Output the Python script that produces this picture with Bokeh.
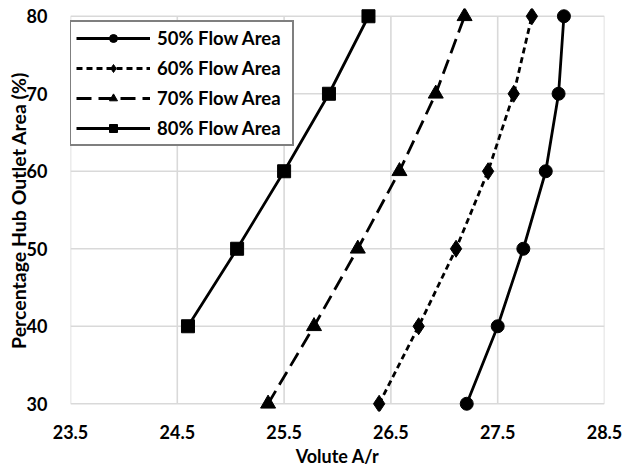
import math
from bokeh.plotting import figure
from bokeh.models import Range1d, FixedTicker, Legend, LegendItem, Label
from bokeh.embed import file_html
from bokeh.resources import INLINE

# Percentage hub outlet area (y) against volute A/r (x) for each flow area
hub_outlet_pct = [30, 40, 50, 60, 70, 80]
hub_outlet_pct_80 = [40, 50, 60, 70, 80]

ar_50 = [27.21, 27.50, 27.74, 27.95, 28.07, 28.12]
ar_60 = [26.39, 26.76, 27.11, 27.41, 27.65, 27.82]
ar_70 = [25.35, 25.78, 26.19, 26.58, 26.92, 27.19]
ar_80 = [24.60, 25.06, 25.50, 25.92, 26.29]

x_ticks = [23.5, 24.5, 25.5, 26.5, 27.5, 28.5]
y_ticks = [30, 40, 50, 60, 70, 80]

x_title = "Volute A/r"
y_title = "Percentage Hub Outlet Area (%)"

FONT = "Lato"
GRID = "#d9d9d9"

p = figure(width=635, height=464, output_backend="svg", toolbar_location=None,
           x_range=Range1d(23.5, 28.5), y_range=Range1d(29, 81),
           min_border_left=69, min_border_right=31, min_border_top=8,
           min_border_bottom=53)
p.outline_line_color = None
p.grid.visible = False

# gridlines limited to the tick extents
p.segment(x0=x_ticks, x1=x_ticks, y0=[min(y_ticks)] * len(x_ticks),
          y1=[max(y_ticks)] * len(x_ticks), line_color=GRID, line_width=1.6)
p.segment(x0=[min(x_ticks)] * len(y_ticks), x1=[max(x_ticks)] * len(y_ticks),
          y0=y_ticks, y1=y_ticks, line_color=GRID, line_width=1.6)

for ax in (p.xaxis[0], p.yaxis[0]):
    ax.axis_line_color = None
    ax.major_tick_line_color = None
    ax.minor_tick_line_color = None
    ax.major_label_text_font = FONT
    ax.major_label_text_font_style = "bold"
    ax.major_label_text_font_size = "18px"
    ax.major_label_text_color = "#000000"

p.xaxis.ticker = FixedTicker(ticks=x_ticks)
p.yaxis.ticker = FixedTicker(ticks=y_ticks)
p.xaxis.major_label_standoff = 7
p.yaxis.major_label_standoff = 17

# axis titles placed in the side panels (screen pixels)
p.add_layout(Label(x=267, y=8, x_units="screen", y_units="screen",
                   text=x_title, text_align="center", text_baseline="alphabetic",
                   text_font=FONT, text_font_style="bold", text_font_size="18px",
                   text_color="black"), "below")
p.add_layout(Label(x=18, y=201, x_units="screen", y_units="screen",
                   text=y_title, angle=math.pi / 2, text_align="center",
                   text_baseline="alphabetic", text_font=FONT,
                   text_font_style="bold", text_font_size="19.5px",
                   text_color="black"), "left")

LW = 2.8
l50 = p.line(ar_50, hub_outlet_pct, line_color="black", line_width=LW)
m50 = p.scatter(ar_50, hub_outlet_pct, marker="circle", size=13, color="black")
l60 = p.line(ar_60, hub_outlet_pct, line_color="black", line_width=LW, line_dash="6 4")
m60 = p.scatter(ar_60, hub_outlet_pct, marker="diamond", size=17, color="black")
l70 = p.line(ar_70, hub_outlet_pct, line_color="black", line_width=LW, line_dash="15 7")
m70 = p.scatter(ar_70, hub_outlet_pct, marker="triangle", size=15, color="black")
l80 = p.line(ar_80, hub_outlet_pct_80, line_color="black", line_width=LW)
m80 = p.scatter(ar_80, hub_outlet_pct_80, marker="square", size=13, color="black")

legend = Legend(items=[
    LegendItem(label="50% Flow Area", renderers=[l50, m50]),
    LegendItem(label="60% Flow Area", renderers=[l60, m60]),
    LegendItem(label="70% Flow Area", renderers=[l70, m70]),
    LegendItem(label="80% Flow Area", renderers=[l80, m80]),
], location=(-1, 265))
legend.padding = 5
legend.spacing = 8
legend.glyph_width = 74
legend.glyph_height = 20
legend.label_height = 20
legend.label_width = 130
legend.label_standoff = 7
legend.margin = 0
legend.border_line_color = "black"
legend.border_line_width = 2
legend.background_fill_color = "white"
legend.background_fill_alpha = 1
legend.label_text_font = FONT
legend.label_text_font_style = "bold"
legend.label_text_font_size = "18.5px"
legend.label_text_color = "black"
p.add_layout(legend, "center")

open("out.html", "w").write(file_html(p, INLINE))
